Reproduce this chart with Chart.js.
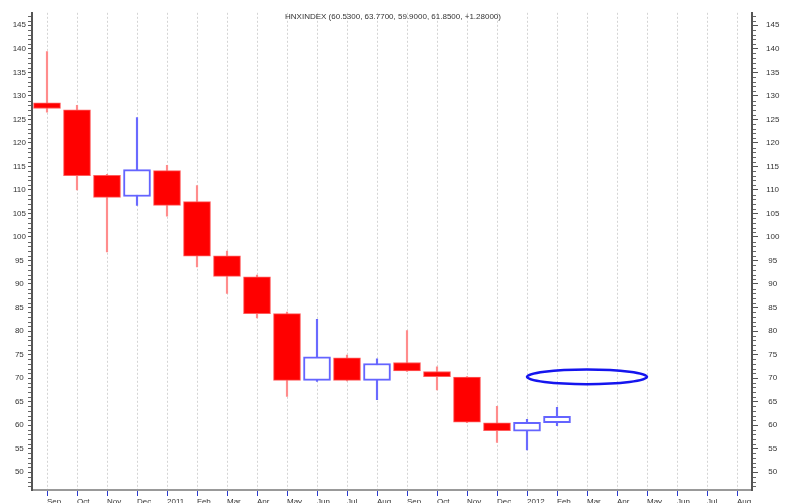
<!DOCTYPE html>
<html>
<head>
<meta charset="utf-8">
<script src="https://cdn.jsdelivr.net/npm/chart.js@4.4.1/dist/chart.umd.min.js"></script>
<style>
  html, body { margin: 0; padding: 0; background: #fff; overflow: hidden; }
</style>
</head>
<body>
<canvas id="hnxChart" width="791" height="512"></canvas>
<script>
// monthly candles, Sep 2010 .. Feb 2012 (axis runs to Aug 2012)
const months = ['Sep', 'Oct', 'Nov', 'Dec', '2011', 'Feb', 'Mar', 'Apr', 'May', 'Jun', 'Jul', 'Aug',
                'Sep', 'Oct', 'Nov', 'Dec', '2012', 'Feb', 'Mar', 'Apr', 'May', 'Jun', 'Jul', 'Aug'];
const opens  = [128.5, 127.0, 113.1, 108.6, 114.1, 107.5, 96.0, 91.5, 83.7, 69.5, 74.3, 69.5, 73.3, 71.4, 70.2, 60.5, 58.7, 60.53];
const highs  = [139.4, 128.0, 113.3, 125.4, 115.2, 110.9, 97.0, 91.9, 84.0, 82.5, 74.9, 74.1, 80.1, 72.4, 70.3, 64.0, 61.2, 63.77];
const lows   = [126.5, 110.0, 96.8, 106.7, 104.4, 93.6, 88.0, 82.8, 66.1, 69.3, 69.4, 65.4, 71.4, 67.5, 60.5, 56.3, 54.7, 59.90];
const closes = [127.3, 113.0, 108.4, 114.3, 106.7, 95.9, 91.6, 83.7, 69.5, 74.5, 69.5, 73.1, 71.5, 70.3, 60.6, 58.8, 60.57, 61.85];
const yTicks = [50, 55, 60, 65, 70, 75, 80, 85, 90, 95, 100, 105, 110, 115, 120, 125, 130, 135, 140, 145];
const titleText = 'HNXINDEX (60.5300, 63.7700, 59.9000, 61.8500, +1.28000)';
// the blue ring drawn on the chart: from month index 16 to 20, between these values
const ringMonths = [16, 20];
const ringValues = [68.7, 71.8];

const yMin = 46.2, yMax = 147.65;

Chart.defaults.font.family = '"Liberation Sans", Arial, sans-serif';
Chart.defaults.font.size = 8;
Chart.defaults.color = '#333';

const isDown = opens.map((o, i) => closes[i] < o);

const extras = {
  id: 'extras',
  afterDraw(chart) {
    const ctx = chart.ctx;
    const x = chart.scales.x, y = chart.scales.y;
    ctx.save();

    // minor ticks on both value axes, one per unit
    ctx.strokeStyle = '#666';
    ctx.lineWidth = 1;
    ctx.beginPath();
    ['y', 'y2'].forEach(id => {
      const s = chart.scales[id];
      const edge = id === 'y' ? s.right - 1 : s.left + 1;
      const dir = id === 'y' ? -1 : 1;
      for (let v = 47; v <= yMax; v += 1) {
        if (v % 5 === 0) continue;
        const py = Math.round(s.getPixelForValue(v)) + 0.5;
        ctx.moveTo(edge, py);
        ctx.lineTo(edge + dir * 3, py);
      }
    });
    ctx.stroke();

    // ring
    const x1 = x.getPixelForValue(ringMonths[0]), x2 = x.getPixelForValue(ringMonths[1]);
    const y1 = y.getPixelForValue(ringValues[1]), y2 = y.getPixelForValue(ringValues[0]);
    ctx.strokeStyle = '#1515ee';
    ctx.lineWidth = 2.5;
    ctx.beginPath();
    ctx.ellipse((x1 + x2) / 2, (y1 + y2) / 2, (x2 - x1) / 2, (y2 - y1) / 2, 0, 0, Math.PI * 2);
    ctx.stroke();

    // title
    ctx.fillStyle = '#333';
    ctx.font = '8px "Liberation Sans", Arial, sans-serif';
    ctx.textAlign = 'center';
    ctx.textBaseline = 'middle';
    ctx.fillText(titleText, (chart.chartArea.left + chart.chartArea.right) / 2 + 1, 17);
    ctx.restore();
  }
};

new Chart(document.getElementById('hnxChart'), {
  type: 'bar',
  data: {
    labels: months,
    datasets: [
      {
        label: 'wick',
        data: lows.map((l, i) => [l, highs[i]]),
        backgroundColor: isDown.map(d => d ? '#ff8c8c' : '#6a6aff'),
        barThickness: 1.5,
        grouped: false,
        order: 2
      },
      {
        label: 'body',
        data: opens.map((o, i) => [o, closes[i]]),
        backgroundColor: isDown.map(d => d ? '#ff0000' : '#ffffff'),
        borderColor: isDown.map(d => d ? '#ff5c5c' : '#6464ff'),
        borderWidth: isDown.map(d => d ? 1 : 2),
        borderSkipped: false,
        barThickness: 27,
        grouped: false,
        order: 1
      }
    ]
  },
  options: {
    responsive: false,
    animation: false,
    layout: { padding: { top: 11 } },
    plugins: { legend: { display: false }, tooltip: { enabled: false } },
    scales: {
      x: {
        offset: true,
        grid: { offset: false, color: '#d4d4d4', tickColor: '#2a3acc', tickLength: 6 },
        border: { color: '#999', width: 2, dash: [2, 2] },
        ticks: { align: 'start', padding: 1, autoSkip: false, maxRotation: 0 },
        afterFit: s => { s.height = 22; }
      },
      y: {
        position: 'left',
        min: yMin,
        max: yMax,
        afterBuildTicks: s => { s.ticks = yTicks.map(v => ({ value: v })); },
        afterFit: s => { s.width = 32; },
        grid: { drawOnChartArea: false, tickLength: 4, tickColor: '#555' },
        border: { color: '#555', width: 2 },
        ticks: { crossAlign: 'center', padding: 2 }
      },
      y2: {
        position: 'right',
        min: yMin,
        max: yMax,
        afterBuildTicks: s => { s.ticks = yTicks.map(v => ({ value: v })); },
        afterFit: s => { s.width = 39; },
        grid: { drawOnChartArea: false, tickLength: 6, tickColor: '#555' },
        border: { color: '#555', width: 2 },
        ticks: { crossAlign: 'center', padding: 8 }
      }
    }
  },
  plugins: [extras]
});
</script>
</body>
</html>
